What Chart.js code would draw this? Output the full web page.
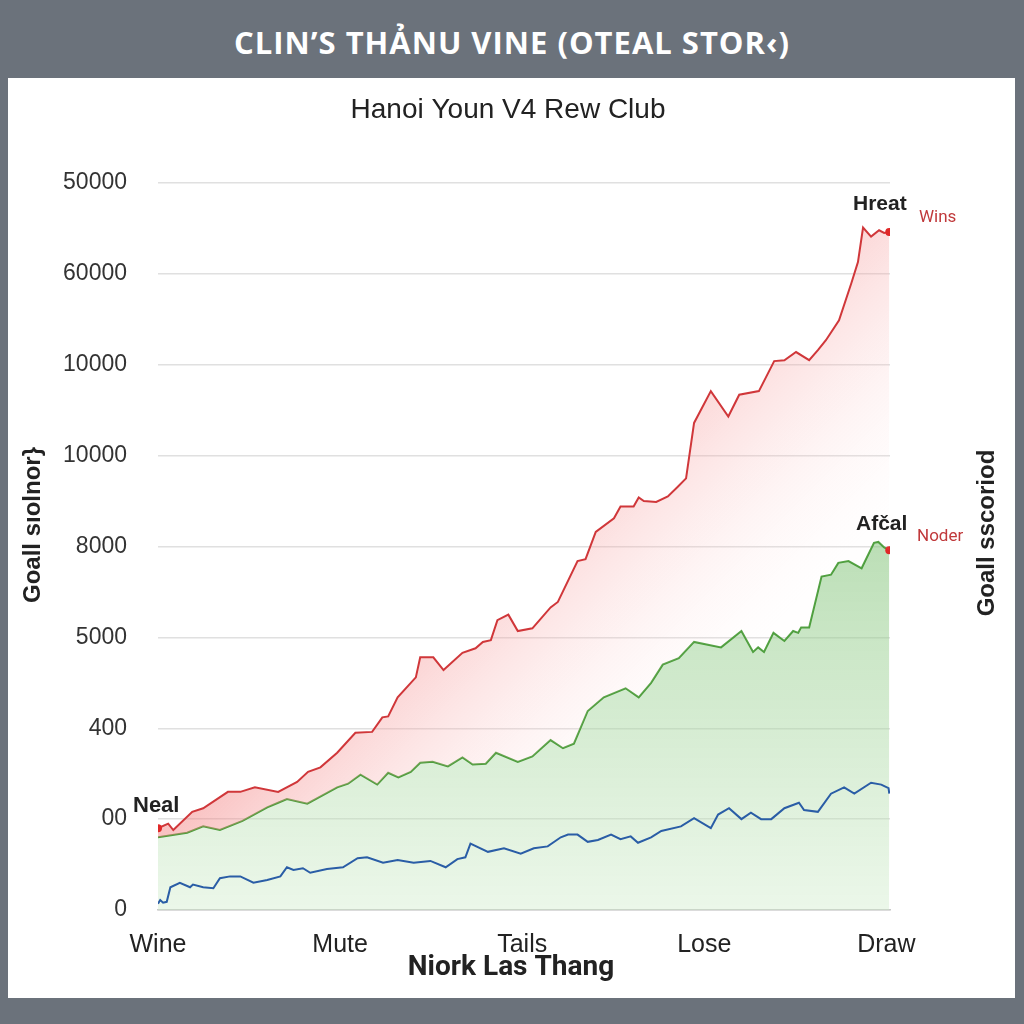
<!DOCTYPE html>
<html>
<head>
<meta charset="utf-8">
<script src="https://cdn.jsdelivr.net/npm/chart.js@4.4.0/dist/chart.umd.min.js"></script>
<style>
  html, body { margin: 0; padding: 0; }
  body { width: 1024px; height: 1024px; background: #6b727b; position: relative; overflow: hidden; }
  .head { position: absolute; left: 0; top: 0; width: 1024px; height: 78px; line-height: 84px; text-align: center;
          color: #fff; font-family: "Open Sans", sans-serif; font-weight: 700; font-size: 31px; letter-spacing: 1px; }
  .panel { position: absolute; left: 8px; top: 78px; width: 1007px; height: 920px; background: #fff; }
</style>
</head>
<body>
<div class="head">CLIN’S THẢNU VINE (OTEAL STOR‹)</div>
<div class="panel"><canvas id="goalChart" width="1007" height="920"></canvas></div>
<script>
// tick labels
const xTickLabels = ['Wine', 'Mute', 'Tails', 'Lose', 'Draw'];
const xTickValues = [0, 25, 50, 75, 100];
const yTickLabels = ['0', '00', '400', '5000', '8000', '10000', '10000', '60000', '50000'];

// red series (Hreat / Wins)
const hreatX = [0, 1.4, 2.1, 4.7, 6.2, 9.6, 11.3, 13.3, 16.5, 19.1, 20.6, 22.3, 24.6, 27.1, 29.4, 30.8, 31.6, 32.9, 35.4, 36.0,
  37.8, 39.2, 41.8, 43.6, 44.6, 45.7, 46.6, 48.1, 49.4, 51.4, 53.9, 54.9, 57.6, 58.7, 60.1, 62.6, 63.5, 65.3, 66.0, 66.7,
  68.4, 70.0, 71.4, 72.5, 73.6, 75.9, 78.3, 79.8, 82.5, 84.6, 86.0, 87.6, 89.4, 90.6, 91.7, 93.5, 95.2, 96.1, 96.8, 97.9,
  99.0, 99.7, 100.4];
const hreatY = [9.0, 9.5, 8.8, 10.8, 11.2, 13.0, 13.0, 13.5, 13.0, 14.1, 15.2, 15.7, 17.3, 19.5, 19.6, 21.2, 21.3, 23.4, 25.6, 27.8,
  27.8, 26.4, 28.3, 28.8, 29.5, 29.7, 31.9, 32.5, 30.7, 31.0, 33.3, 33.9, 38.4, 38.6, 41.6, 43.1, 44.4, 44.4, 45.4, 45.0,
  44.9, 45.5, 46.6, 47.5, 53.6, 57.1, 54.3, 56.7, 57.1, 60.4, 60.5, 61.4, 60.5, 61.6, 62.7, 64.9, 69.0, 71.3, 75.1, 74.1,
  74.8, 74.5, 74.6];

// green series (Afčal / Noder)
const afcalX = [0, 4.0, 6.2, 8.5, 11.6, 15.0, 16.5, 17.7, 20.5, 24.6, 26.1, 27.8, 30.1, 31.6, 33.0, 34.7, 36.0, 37.7, 39.8, 41.8,
  43.2, 45.0, 46.4, 49.4, 51.4, 53.9, 55.6, 57.1, 59.0, 61.2, 64.2, 66.0, 67.7, 69.3, 71.5, 73.6, 77.3, 80.1, 81.7, 82.4,
  83.2, 84.5, 86.0, 87.2, 87.9, 88.3, 89.4, 91.1, 92.4, 93.4, 94.8, 96.6, 98.3, 98.9, 99.7, 100.4];
const afcalY = [8.0, 8.5, 9.2, 8.8, 9.8, 11.3, 11.8, 12.2, 11.7, 13.5, 13.9, 14.9, 13.8, 15.1, 14.6, 15.2, 16.2, 16.3, 15.8, 16.8,
  16.0, 16.1, 17.3, 16.3, 16.9, 18.7, 17.8, 18.3, 21.9, 23.4, 24.4, 23.4, 25.0, 27.0, 27.7, 29.5, 28.9, 30.7, 28.4, 28.9,
  28.4, 30.5, 29.6, 30.7, 30.5, 31.1, 31.1, 36.7, 36.9, 38.2, 38.4, 37.6, 40.4, 40.5, 39.9, 39.6];

// blue series
const blueX = [0, 0.3, 0.7, 1.2, 1.7, 3.0, 4.4, 4.8, 6.2, 7.6, 8.5, 9.9, 11.3, 13.1, 15.0, 16.8, 17.7, 18.6, 19.9, 20.9,
  23.2, 25.4, 27.4, 28.7, 30.9, 32.9, 35.1, 37.4, 39.5, 41.1, 42.2, 42.9, 45.3, 47.5, 49.8, 51.6, 53.5, 55.3, 56.3, 57.6,
  59.0, 60.4, 62.2, 63.5, 64.9, 65.9, 67.7, 69.1, 71.8, 73.6, 75.9, 76.9, 78.4, 80.1, 81.4, 82.8, 84.2, 86.0, 88.0, 88.7,
  90.6, 92.4, 94.2, 95.6, 97.9, 99.3, 100.3, 100.4];
const blueY = [0.7, 1.1, 0.8, 0.9, 2.5, 3.0, 2.5, 2.8, 2.5, 2.4, 3.5, 3.7, 3.7, 3.0, 3.3, 3.7, 4.7, 4.4, 4.6, 4.1,
  4.5, 4.7, 5.7, 5.8, 5.2, 5.5, 5.2, 5.4, 4.7, 5.6, 5.8, 7.3, 6.4, 6.8, 6.2, 6.8, 7.0, 8.0, 8.3, 8.3,
  7.5, 7.7, 8.3, 7.8, 8.1, 7.4, 8.0, 8.7, 9.2, 10.1, 9.0, 10.5, 11.2, 10.0, 10.7, 10.0, 10.0, 11.2, 11.8, 11.0,
  10.8, 12.8, 13.5, 12.8, 14.0, 13.8, 13.4, 12.8];

function toPoints(xs, ys) {
  return xs.map((x, i) => ({ x: x, y: ys[i] }));
}

// pinkish band fading diagonally, like the reference
function redFill(context) {
  const { ctx, chartArea } = context.chart;
  if (!chartArea) return 'rgba(240,120,120,0.3)';
  const g = ctx.createLinearGradient(457, 457, 657, 657);
  g.addColorStop(0, 'rgba(242,120,120,0.45)');
  g.addColorStop(1, 'rgba(255,235,235,0.05)');
  return g;
}

function greenFill(context) {
  const { ctx, chartArea } = context.chart;
  if (!chartArea) return 'rgba(120,190,110,0.4)';
  const g = ctx.createLinearGradient(0, 460, 0, chartArea.bottom);
  g.addColorStop(0, 'rgba(130,195,120,0.55)');
  g.addColorStop(1, 'rgba(205,235,200,0.4)');
  return g;
}

const lastDot = (len) => (c) => (c.dataIndex === len - 1 ? 4 : 0);

// titles, side labels and annotations
const textPlugin = {
  id: 'texts',
  afterDraw(chart) {
    const ctx = chart.ctx;
    ctx.save();
    ctx.textBaseline = 'middle';
    ctx.textAlign = 'center';
    ctx.fillStyle = '#222';
    ctx.font = '28px "Liberation Sans", Arial, sans-serif';
    ctx.fillText('Hanoi Youn V4 Rew Club', 500, 32);

    ctx.font = 'bold 24px "Liberation Sans", Arial, sans-serif';
    ctx.save();
    ctx.translate(25, 447);
    ctx.rotate(-Math.PI / 2);
    ctx.fillText('Goall sıolnor}', 0, 0);
    ctx.restore();
    ctx.save();
    ctx.translate(979, 455);
    ctx.rotate(-Math.PI / 2);
    ctx.fillText('Goall sscoriod', 0, 0);
    ctx.restore();

    ctx.font = 'bold 28px Roboto, "Liberation Sans", sans-serif';
    ctx.fillText('Niork Las Thang', 503, 890);

    ctx.textAlign = 'left';
    ctx.font = 'bold 22px "Liberation Sans", Arial, sans-serif';
    ctx.fillText('Neal', 125, 728);
    ctx.font = 'bold 21px "Liberation Sans", Arial, sans-serif';
    ctx.fillText('Hreat', 845, 126);
    ctx.fillText('Afčal', 848, 446);
    ctx.fillStyle = '#c0393b';
    ctx.font = '17px Roboto, sans-serif';
    ctx.fillText('Wins', 911, 140);
    ctx.fillText('Noder', 909, 459);
    ctx.restore();
  }
};

new Chart(document.getElementById('goalChart'), {
  type: 'line',
  data: {
    datasets: [
      {
        label: 'Hreat',
        data: toPoints(hreatX, hreatY),
        borderColor: '#d0373a',
        borderWidth: 2,
        backgroundColor: redFill,
        fill: '+1',
        tension: 0,
        order: 1,
        pointRadius: (c) => (c.dataIndex === 0 || c.dataIndex === hreatX.length - 1 ? 4 : 0),
        pointBackgroundColor: '#e02828',
        pointBorderWidth: 0
      },
      {
        label: 'Afčal',
        data: toPoints(afcalX, afcalY),
        borderColor: '#4c9e3c',
        borderWidth: 2,
        backgroundColor: greenFill,
        fill: 'origin',
        tension: 0,
        order: 2,
        pointRadius: lastDot(afcalX.length),
        pointBackgroundColor: '#e02828',
        pointBorderWidth: 0
      },
      {
        label: 'Other',
        data: toPoints(blueX, blueY),
        borderColor: '#2a5da6',
        borderWidth: 2,
        fill: false,
        tension: 0,
        order: 0,
        pointRadius: 0
      }
    ]
  },
  options: {
    responsive: false,
    animation: false,
    devicePixelRatio: 1,
    layout: { padding: { top: 105, right: 125, bottom: 38, left: 0 } },
    plugins: {
      legend: { display: false },
      title: { display: false },
      tooltip: { enabled: false }
    },
    scales: {
      x: {
        type: 'linear',
        min: 0,
        max: 100.5,
        afterBuildTicks: (s) => { s.ticks = xTickValues.map(v => ({ value: v })); },
        afterFit: (s) => { s.height = 50; },
        grid: { display: false },
        border: { color: '#c8c8c8', width: 1.5 },
        ticks: {
          autoSkip: false,
          maxRotation: 0,
          padding: 12,
          color: '#222',
          font: { family: '"Liberation Sans", Arial, sans-serif', size: 25 },
          callback: (v) => xTickLabels[xTickValues.indexOf(v)]
        }
      },
      y: {
        min: 0,
        max: 80,
        afterFit: (s) => { s.width = 150; },
        grid: { color: '#e0e0e0', lineWidth: 1.5, drawTicks: false },
        border: { display: false },
        ticks: {
          stepSize: 10,
          padding: 31,
          color: '#333',
          font: { family: '"Liberation Sans", Arial, sans-serif', size: 23 },
          callback: (v) => yTickLabels[Math.round(v / 10)]
        }
      }
    }
  },
  plugins: [textPlugin]
});
</script>
</body>
</html>
